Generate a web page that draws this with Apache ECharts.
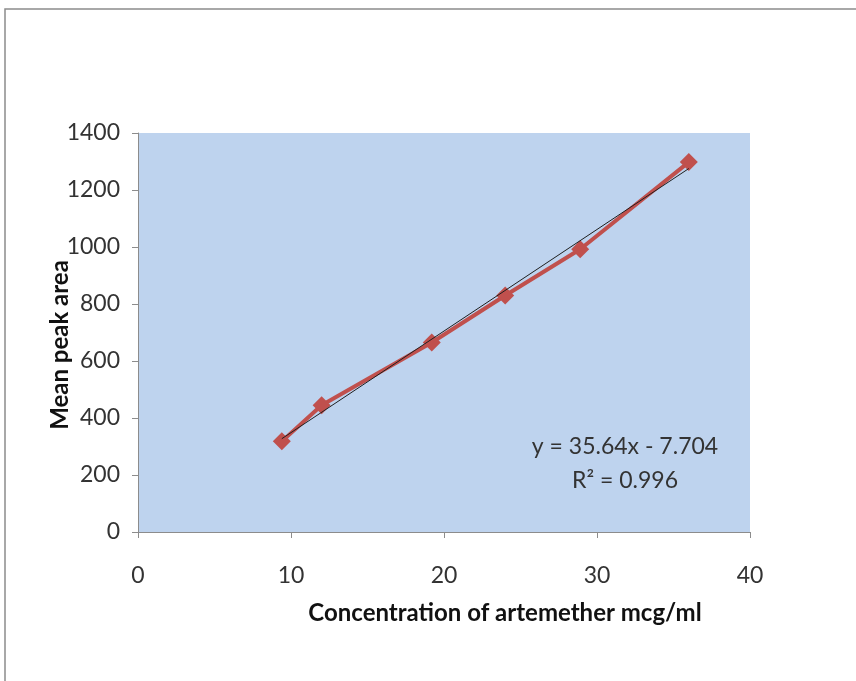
<!DOCTYPE html>
<html>
<head>
<meta charset="utf-8">
<script src="https://cdn.jsdelivr.net/npm/echarts@6/dist/echarts.min.js"></script>
<style>
  html, body { margin: 0; padding: 0; background: #ffffff; }
  #chart { width: 856px; height: 681px; }
</style>
</head>
<body>
<div id="chart"></div>
<script>
// Calibration data: concentration (mcg/ml) vs mean peak area
const concentration = [9.4, 12.0, 19.2, 24.0, 28.9, 36.0];
const meanPeakArea = [318, 445, 665, 830, 992, 1298];

// Linear fit reported for the calibration
const fitSlope = 35.64;
const fitIntercept = -7.704;
const fitR2 = 0.996;

const xTicks = [0, 10, 20, 30, 40];
const yTicks = [0, 200, 400, 600, 800, 1000, 1200, 1400];

const font = 'Lato, "Open Sans", sans-serif';

const points = concentration.map((c, i) => [c, meanPeakArea[i]]);
const xMinData = Math.min(...concentration);
const xMaxData = Math.max(...concentration);
const fitLine = [xMinData, xMaxData].map(x => [x, fitSlope * x + fitIntercept]);

const chart = echarts.init(document.getElementById('chart'), null, { renderer: 'canvas' });

chart.setOption({
  backgroundColor: '#ffffff',
  animation: false,
  grid: {
    left: 138, top: 133, right: 106, bottom: 149,
    show: true, backgroundColor: '#BED3EE', borderWidth: 0
  },
  xAxis: {
    type: 'value',
    min: xTicks[0], max: xTicks[xTicks.length - 1], interval: 10,
    axisLine: { show: true, onZero: false, lineStyle: { color: '#8C8C8C', width: 1 } },
    axisTick: { show: true, inside: false, length: 6, lineStyle: { color: '#8C8C8C' } },
    splitLine: { show: false },
    axisLabel: { color: '#333333', fontSize: 23, fontFamily: font, margin: 32, formatter: v => String(v) }
  },
  yAxis: {
    type: 'value',
    min: yTicks[0], max: yTicks[yTicks.length - 1], interval: 200,
    axisLine: { show: true, lineStyle: { color: '#8C8C8C', width: 1 } },
    axisTick: { show: true, inside: false, length: 6, lineStyle: { color: '#8C8C8C' } },
    splitLine: { show: false },
    axisLabel: { color: '#333333', fontSize: 23, fontFamily: font, margin: 18, formatter: v => String(v) }
  },
  series: [
    {
      name: 'Mean peak area',
      type: 'line',
      data: points,
      symbol: 'diamond',
      symbolSize: 18,
      lineStyle: { color: '#C0504D', width: 4 },
      itemStyle: { color: '#C0504D' },
      z: 2
    },
    {
      name: 'Linear fit',
      type: 'line',
      data: fitLine,
      symbol: 'none',
      lineStyle: { color: '#1F1F1F', width: 1 },
      z: 3
    }
  ],
  graphic: [
    {
      type: 'rect', silent: true, z: -10,
      shape: { x: 5, y: 9, width: 900, height: 700 },
      style: { fill: 'none', stroke: '#8C8C8C', lineWidth: 1.5 }
    },
    {
      type: 'text', x: 60, y: 345, rotation: Math.PI / 2,
      style: {
        text: 'Mean peak area', fill: '#111111',
        font: 'bold 24px ' + font, align: 'center', verticalAlign: 'middle'
      }
    },
    {
      type: 'text', x: 505, y: 613,
      style: {
        text: 'Concentration of artemether mcg/ml', fill: '#111111',
        font: 'bold 24px ' + font, align: 'center', verticalAlign: 'middle'
      }
    },
    {
      type: 'text', x: 625, y: 447,
      style: {
        text: 'y = ' + fitSlope + 'x - ' + Math.abs(fitIntercept), fill: '#333333',
        font: '23px ' + font, align: 'center', verticalAlign: 'middle'
      }
    },
    {
      type: 'text', x: 625, y: 481,
      style: {
        text: 'R² = ' + fitR2, fill: '#333333',
        font: '23px ' + font, align: 'center', verticalAlign: 'middle'
      }
    }
  ]
});
</script>
</body>
</html>
